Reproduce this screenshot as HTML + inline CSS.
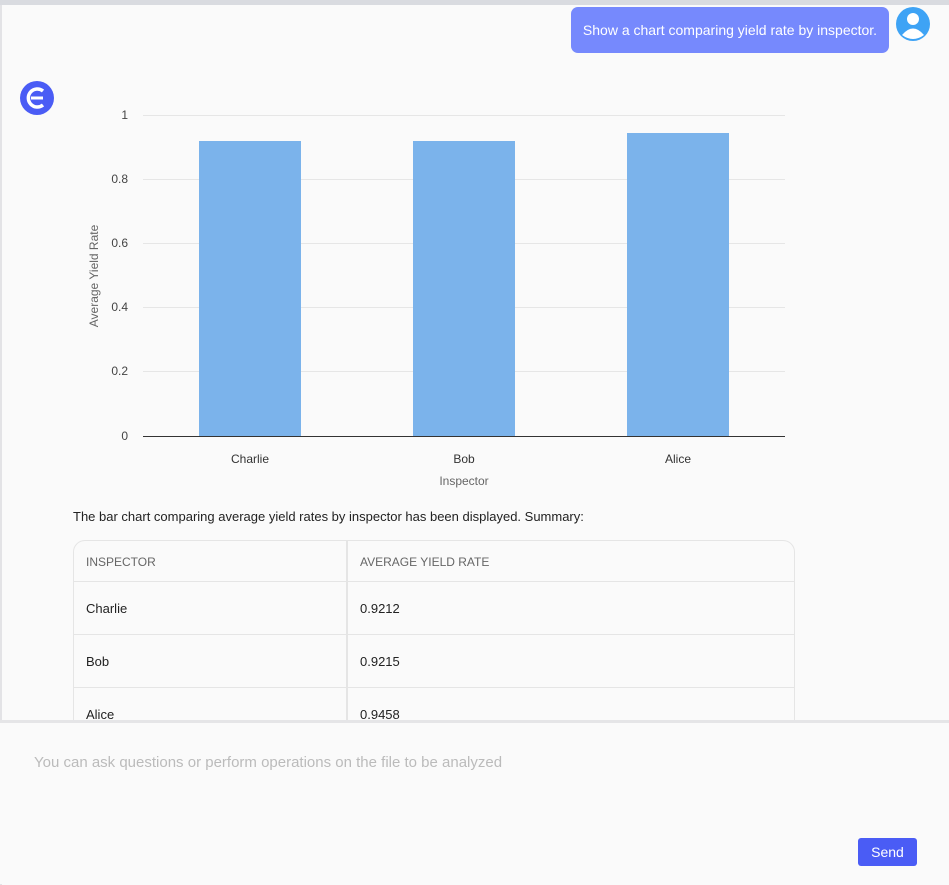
<!DOCTYPE html>
<html><head><meta charset="utf-8"><style>
*{box-sizing:border-box;margin:0;padding:0}
body{width:949px;height:884px;background:#fafafa;font-family:"Liberation Sans",sans-serif;position:relative;overflow:hidden}
.a{position:absolute}
</style></head><body>
<div class="a" style="left:0;top:0;width:949px;height:5px;background:#d9dbe0"></div>
<div class="a" style="left:0;top:5px;width:2px;height:880px;background:#e3e3e6"></div>
<div class="a" style="left:571px;top:7px;width:318px;height:46px;background:#7689fd;border-radius:7px;color:#fff;font-size:14px;line-height:46px;text-align:center">Show a chart comparing yield rate by inspector.</div>
<svg class="a" style="left:895px;top:6px" width="36" height="36" viewBox="0 0 36 36"><circle cx="18" cy="18" r="17" fill="#3ea3f5"/><circle cx="18" cy="13" r="6" fill="#fff"/><path d="M7 29 Q18 16 29 29 Q18 37 7 29Z" fill="#fff"/></svg>
<svg class="a" style="left:20px;top:81px" width="34" height="34" viewBox="0 0 34 34"><circle cx="17" cy="17" r="17" fill="#4a5cf5"/><path d="M23 10 A9 9 0 1 0 23 24" stroke="#fff" stroke-width="3.5" fill="none"/><line x1="11" y1="17" x2="23" y2="17" stroke="#fff" stroke-width="3"/></svg>
<svg class="a" style="left:0;top:0" width="949" height="500">
<g stroke="#e6e6e6" stroke-width="1">
<line x1="143" x2="785" y1="115.5" y2="115.5"/><line x1="143" x2="785" y1="179.5" y2="179.5"/><line x1="143" x2="785" y1="243.5" y2="243.5"/><line x1="143" x2="785" y1="307.5" y2="307.5"/><line x1="143" x2="785" y1="371.5" y2="371.5"/></g>
<line x1="143" x2="785" y1="436.5" y2="436.5" stroke="#333"/>
<g fill="#7bb3eb"><rect x="199" y="141" width="102" height="295"/><rect x="413" y="141" width="102" height="295"/><rect x="627" y="133" width="102" height="303"/></g>
<g font-size="12" fill="#444" text-anchor="end" font-family="Liberation Sans">
<text x="128" y="119">1</text><text x="128" y="183">0.8</text><text x="128" y="247">0.6</text><text x="128" y="311">0.4</text><text x="128" y="375">0.2</text><text x="128" y="440">0</text></g>
<g font-size="12" fill="#333" text-anchor="middle" font-family="Liberation Sans">
<text x="250" y="463">Charlie</text><text x="464" y="463">Bob</text><text x="678" y="463">Alice</text>
<text x="464" y="485" fill="#666">Inspector</text>
<text transform="translate(98 276) rotate(-90)" fill="#666">Average Yield Rate</text></g>
</svg>
<div class="a" style="left:73px;top:509px;font-size:13px;color:#222">The bar chart comparing average yield rates by inspector has been displayed. Summary:</div>
<div class="a" style="left:73px;top:540px;width:722px;height:190px;border:1px solid #e5e5e5;border-radius:12px 12px 0 0;overflow:hidden">
<div class="a" style="left:272px;top:0;width:2px;height:190px;background:#e5e5e5"></div>
<div class="a" style="left:0;top:40px;width:722px;height:1px;background:#e5e5e5"></div>
<div class="a" style="left:0;top:93px;width:722px;height:1px;background:#e5e5e5"></div>
<div class="a" style="left:0;top:146px;width:722px;height:1px;background:#e5e5e5"></div>
<div class="a" style="left:12px;top:14px;font-size:12px;color:#666">INSPECTOR</div>
<div class="a" style="left:286px;top:14px;font-size:12px;color:#666">AVERAGE YIELD RATE</div>
<div class="a" style="left:12px;top:60px;font-size:13px;color:#222">Charlie</div><div class="a" style="left:286px;top:60px;font-size:13px;color:#222">0.9212</div>
<div class="a" style="left:12px;top:113px;font-size:13px;color:#222">Bob</div><div class="a" style="left:286px;top:113px;font-size:13px;color:#222">0.9215</div>
<div class="a" style="left:12px;top:166px;font-size:13px;color:#222">Alice</div><div class="a" style="left:286px;top:166px;font-size:13px;color:#222">0.9458</div>
</div>
<div class="a" style="left:0;top:720px;width:949px;height:164px;background:#fafafa;border-top:3px solid #e5e5e7"></div>
<div class="a" style="left:34px;top:754px;font-size:15px;color:#bbb">You can ask questions or perform operations on the file to be analyzed</div>
<div class="a" style="left:858px;top:838px;width:59px;height:28px;background:#4a5cf5;border-radius:3px;color:#fff;font-size:14px;line-height:28px;text-align:center">Send</div>
</body></html>
